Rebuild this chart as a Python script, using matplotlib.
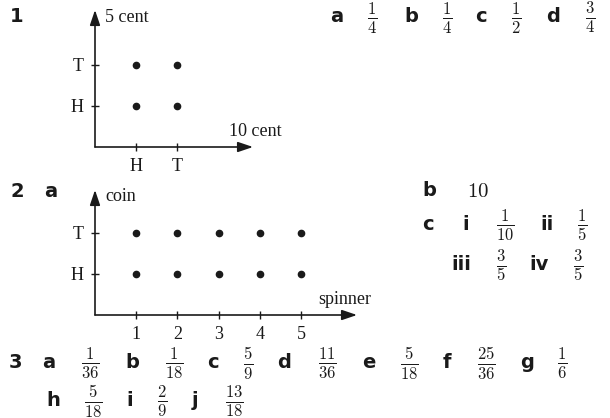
import matplotlib
matplotlib.use('Agg')
import matplotlib.pyplot as plt

plt.rcParams['mathtext.fontset'] = 'cm'

W, H = 610, 418

# question 1: two coins
q1_x_cats = ['H', 'T']
q1_y_cats = ['H', 'T']
q1_xlabel, q1_ylabel = '10 cent', '5 cent'
q1_letters = ['a', 'b', 'c', 'd']
q1_num = [1, 1, 1, 3]
q1_den = [4, 4, 2, 4]

# question 2: spinner and coin
q2_x_cats = [1, 2, 3, 4, 5]
q2_y_cats = ['H', 'T']
q2_xlabel, q2_ylabel = 'spinner', 'coin'
q2_b = 10
q2_c_labels = ['i', 'ii', 'iii', 'iv']
q2_c_num = [1, 1, 3, 3]
q2_c_den = [10, 5, 5, 5]

# question 3
q3_letters = ['a', 'b', 'c', 'd', 'e', 'f', 'g', 'h', 'i', 'j']
q3_num = [1, 1, 5, 11, 5, 25, 1, 5, 2, 13]
q3_den = [36, 18, 9, 36, 18, 36, 6, 18, 9, 18]

INK = '#1a1a1a'
SERIF = 'Liberation Serif'
BOLD = dict(family='DejaVu Sans', fontweight='heavy', fontsize=14, color=INK)
FRAC = dict(fontsize=17, color=INK)

fig = plt.figure(figsize=(W / 100, H / 100), dpi=100)


def px(x, y):
    return x / W, 1 - y / H


def lab(x, y, s):
    fig.text(*px(x, y), s, ha='center', va='center', **BOLD)


def frac(x, y, n, d):
    fig.text(*px(x, y), r'$\frac{%d}{%d}$' % (n, d), ha='center', va='center', **FRAC)


def grid_axes(rect, xcats, ycats, xlabel, ylabel, xoff, yoff):
    x0, y0, x1, y1 = rect  # pixel box: origin (x0, y0), arrow tips (x1, y1)
    ax = fig.add_axes([x0 / W, 1 - y0 / H, (x1 - x0) / W, (y0 - y1) / H])
    unit = 41.2
    ax.set_xlim(0, (x1 - x0) / unit)
    ax.set_ylim(0, (y0 - y1) / unit)
    for s in ax.spines.values():
        s.set_visible(False)
    arr = dict(arrowstyle='-|>,head_length=0.65,head_width=0.22', color=INK, lw=1.2,
               shrinkA=0, shrinkB=0, mutation_scale=14)
    ax.annotate('', xy=(1, 0), xytext=(0, 0), xycoords='axes fraction', arrowprops=arr)
    ax.annotate('', xy=(0, 1), xytext=(0, 0), xycoords='axes fraction', arrowprops=arr)
    xs = range(1, len(xcats) + 1)
    ys = range(1, len(ycats) + 1)
    ax.set_xticks(list(xs), [str(c) for c in xcats])
    ax.set_yticks(list(ys), [str(c) for c in ycats])
    ax.tick_params(direction='inout', length=6, width=1, color=INK, labelcolor=INK,
                   labelsize=13, pad=5)
    for t in ax.get_xticklabels() + ax.get_yticklabels():
        t.set_family(SERIF)
    for xi in xs:
        for yi in ys:
            ax.plot(xi, yi, 'o', color=INK, ms=4.5, clip_on=False)
    ax.annotate(xlabel, xy=(1, 0), xycoords='axes fraction', xytext=xoff,
                textcoords='offset pixels', ha='center', va='center',
                family=SERIF, fontsize=13, color=INK)
    ax.annotate(ylabel, xy=(0, 1), xycoords='axes fraction', xytext=yoff,
                textcoords='offset pixels', ha='left', va='center',
                family=SERIF, fontsize=13, color=INK)
    ax.patch.set_visible(False)
    return ax


# Q1
lab(17, 17, '1')
grid_axes((95, 147, 253, 10), q1_x_cats, q1_y_cats, q1_xlabel, q1_ylabel, (2, 15), (10, -7))
for l, n, d, xl, xf in zip(q1_letters, q1_num, q1_den, [337, 411, 481, 553], [372, 447, 516, 590]):
    lab(xl, 17, l)
    frac(xf, 18, n, d)

# Q2
lab(17, 192, '2')
lab(51, 192, 'a')
grid_axes((95, 315, 357, 190), q2_x_cats, q2_y_cats, q2_xlabel, q2_ylabel, (-12, 15), (10, -6))
lab(429, 190, 'b')
fig.text(*px(478, 191), r'$%d$' % q2_b, ha='center', va='center', fontsize=15, color=INK)
lab(428, 225, 'c')
c_pos = [(466, 505, 225), (547, 582, 225), (461, 501, 265), (539, 578, 265)]
for l, n, d, (xl, xf, y) in zip(q2_c_labels, q2_c_num, q2_c_den, c_pos):
    lab(xl, y, l)
    frac(xf, y, n, d)

# Q3
lab(15, 362, '3')
q3_pos = [(49, 90, 363), (132, 174, 363), (213, 248, 363), (284, 327, 363),
          (369, 409, 363), (447, 486, 363), (527, 562, 363),
          (53, 93, 401), (130, 162, 401), (195, 234, 401)]
for l, n, d, (xl, xf, y) in zip(q3_letters, q3_num, q3_den, q3_pos):
    lab(xl, y, l)
    frac(xf, y, n, d)

fig.savefig('out.png', dpi=100, facecolor='white')
